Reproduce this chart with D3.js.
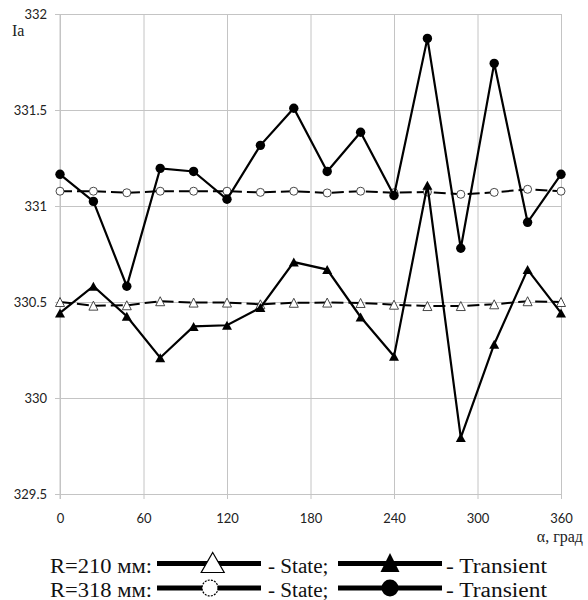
<!DOCTYPE html>
<html>
<head>
<meta charset="utf-8">
<script src="https://cdn.jsdelivr.net/npm/d3@7"></script>
<style>
  html, body { margin: 0; padding: 0; background: #fff; }
  svg { display: block; }
</style>
</head>
<body>
<svg id="chart" width="588" height="600"></svg>
<script>
// ---- data ----
const angles = [0, 24, 48, 72, 96, 120, 144, 168, 192, 216, 240, 264, 288, 312, 336, 360];
const stateR210 = [330.500, 330.481, 330.483, 330.504, 330.497, 330.497, 330.488, 330.496, 330.497, 330.495, 330.486, 330.479, 330.479, 330.488, 330.504, 330.500];
const transR210 = [330.443, 330.582, 330.426, 330.210, 330.373, 330.379, 330.471, 330.708, 330.669, 330.422, 330.217, 331.108, 329.794, 330.280, 330.669, 330.443];
const stateR318 = [331.077, 331.077, 331.069, 331.077, 331.077, 331.077, 331.071, 331.077, 331.068, 331.077, 331.069, 331.073, 331.061, 331.071, 331.087, 331.077];
const transR318 = [331.165, 331.024, 330.582, 331.196, 331.180, 331.035, 331.316, 331.509, 331.180, 331.384, 331.055, 331.873, 330.780, 331.743, 330.915, 331.165];
const xTicks = [0, 60, 120, 180, 240, 300, 360];
const yTicks = [329.5, 330, 330.5, 331, 331.5, 332];
const yLabel = "Ia";
const xLabel = "α, град";
const legendRows = ["R=210 мм:", "R=318 мм:"];
const stateText = "- State;";
const transText = "- Transient";

// ---- layout ----
const svg = d3.select("#chart");
const L = 60, R = 561, T = 14, B = 494;
const x = d3.scaleLinear().domain([0, 360]).range([L, R]);
const y = d3.scaleLinear().domain([329.5, 332]).range([B, T]);
const gridColor = "#c4c4c4";
const tickFont = "Lato, 'Open Sans', sans-serif";

// y grid + labels
const ya = svg.append("g").attr("transform", `translate(${R},0)`)
  .call(d3.axisLeft(y).tickValues(yTicks).tickSizeInner(R - L + 5).tickSizeOuter(0).tickPadding(8)
    .tickFormat(d => d3.format("")(d)));
ya.selectAll("line").attr("stroke", gridColor);
ya.select(".domain").attr("stroke", gridColor);
ya.selectAll("text").attr("font-family", tickFont).attr("font-size", 13).attr("fill", "#222");

// x grid + labels
const xa = svg.append("g").attr("transform", `translate(0,${T})`)
  .call(d3.axisBottom(x).tickValues(xTicks).tickSizeInner(B - T + 5).tickSizeOuter(0).tickPadding(15));
xa.selectAll("line").attr("stroke", gridColor);
xa.select(".domain").attr("stroke", gridColor);
xa.selectAll("text").attr("font-family", tickFont).attr("font-size", 13).attr("fill", "#222");

// left axis line + bottom axis line
svg.append("line").attr("x1", L).attr("x2", L).attr("y1", T).attr("y2", B + 5).attr("stroke", gridColor);

// axis titles
svg.append("text").attr("x", 12).attr("y", 36).text(yLabel)
  .attr("font-family", "'Liberation Serif', 'Times New Roman', serif").attr("font-size", 16).attr("fill", "#222");
svg.append("text").attr("x", 583).attr("y", 542).attr("text-anchor", "end").text(xLabel)
  .attr("font-family", "'Liberation Serif', 'Times New Roman', serif").attr("font-size", 16).attr("fill", "#222");

// ---- series ----
const line = d3.line().x((d, i) => x(angles[i])).y(d => y(d));
const tri = (cx, cy, w, h) => `M${cx},${cy - h / 2}L${cx + w / 2},${cy + h / 2}L${cx - w / 2},${cy + h / 2}Z`;

function drawSeries(vals, dashed, marker) {
  const g = svg.append("g");
  g.append("path").datum(vals).attr("d", line).attr("fill", "none")
    .attr("stroke", "#000").attr("stroke-width", dashed ? 2 : 2.2)
    .attr("stroke-dasharray", dashed ? "12,5" : null);
  vals.forEach((v, i) => {
    const cx = x(angles[i]), cy = y(v);
    if (marker === "openTri") {
      g.append("path").attr("d", tri(cx, cy, 9, 9)).attr("fill", "#fff").attr("stroke", "#333").attr("stroke-width", 0.9);
    } else if (marker === "fillTri") {
      g.append("path").attr("d", tri(cx, cy, 10, 9)).attr("fill", "#000");
    } else if (marker === "openCirc") {
      g.append("circle").attr("cx", cx).attr("cy", cy).attr("r", 4).attr("fill", "#fff").attr("stroke", "#333").attr("stroke-width", 0.9);
    } else {
      g.append("circle").attr("cx", cx).attr("cy", cy).attr("r", 4.7).attr("fill", "#000");
    }
  });
}
drawSeries(stateR210, true, "openTri");
drawSeries(stateR318, true, "openCirc");
drawSeries(transR210, false, "fillTri");
drawSeries(transR318, false, "fillCirc");

// ---- legend ----
const serif = "'Liberation Serif', 'Times New Roman', serif";
const lg = svg.append("g");
const rows = [{ base: 573.3, ly: 563.5, open: "tri", filled: "tri" }, { base: 596.5, ly: 588, open: "circ", filled: "circ" }];
rows.forEach((r, k) => {
  lg.append("text").attr("x", 50).attr("y", r.base).text(legendRows[k])
    .attr("font-family", serif).attr("font-size", 20).attr("fill", "#111")
    .attr("textLength", 102).attr("lengthAdjust", "spacingAndGlyphs");
  lg.append("line").attr("x1", 157).attr("x2", 261).attr("y1", r.ly).attr("y2", r.ly).attr("stroke", "#000").attr("stroke-width", 5);
  lg.append("line").attr("x1", 338).attr("x2", 442).attr("y1", r.ly).attr("y2", r.ly).attr("stroke", "#000").attr("stroke-width", 5);
  if (r.open === "tri") {
    lg.append("path").attr("d", tri(212.7, 562.5, 23, 20)).attr("fill", "#fff").attr("stroke", "#000").attr("stroke-width", 1.2);
    lg.append("path").attr("d", tri(390, 562.5, 19, 19)).attr("fill", "#000");
  } else {
    lg.append("circle").attr("cx", 210).attr("cy", r.ly).attr("r", 8).attr("fill", "#fff").attr("stroke", "#000").attr("stroke-width", 1.2).attr("stroke-dasharray", "2,1.2");
    lg.append("circle").attr("cx", 390).attr("cy", r.ly).attr("r", 8.5).attr("fill", "#000");
  }
  lg.append("text").attr("x", 268).attr("y", r.base).text(stateText)
    .attr("font-family", serif).attr("font-size", 20).attr("fill", "#111")
    .attr("textLength", 60.5).attr("lengthAdjust", "spacingAndGlyphs");
  lg.append("text").attr("x", 446).attr("y", r.base).text(transText)
    .attr("font-family", serif).attr("font-size", 20).attr("fill", "#111")
    .attr("textLength", 101).attr("lengthAdjust", "spacingAndGlyphs");
});
</script>
</body>
</html>
